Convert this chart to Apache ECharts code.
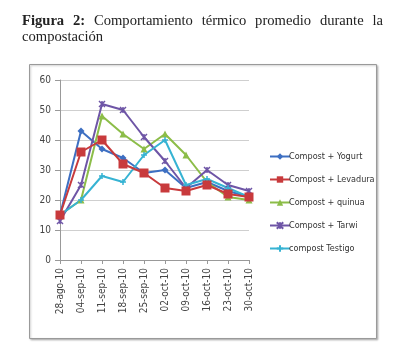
<!DOCTYPE html>
<html><head><meta charset="utf-8">
<script src="https://cdn.jsdelivr.net/npm/echarts@6/dist/echarts.min.js"></script>
<style>
html,body{margin:0;padding:0;background:#fff;}
#title{position:absolute;left:22px;top:12px;width:361px;font-family:"Liberation Serif","DejaVu Serif",serif;font-size:14.6px;line-height:16px;color:#222;}
#title .l1{text-align:justify;text-align-last:justify;}
#chart{position:absolute;left:0;top:0;width:393px;height:359px;}
</style></head>
<body>
<div id="chart"></div>
<div id="title"><div class="l1"><b>Figura 2:</b> Comportamiento térmico promedio durante la</div><div>compostación</div></div>
<script>
const categories = ['28-ago-10','04-sep-10','11-sep-10','18-sep-10','25-sep-10','02-oct-10','09-oct-10','16-oct-10','23-oct-10','30-oct-10'];
const yogurt   = [15,43,37,34,29,30,24,26,23,21];
const levadura = [15,36,40,32,29,24,23,25,22,21];
const quinua   = [15,20,48,42,37,42,35,26,21,20];
const tarwi    = [13,25,52,50,41,33,24,30,25,23];
const testigo  = [15,20,28,26,35,40,25,27,24,21];
const names = ['Compost + Yogurt','Compost + Levadura','Compost + quinua','Compost + Tarwi','compost Testigo'];
const yTicks = [0,10,20,30,40,50,60];

const colors = ['#3d6fc2','#c83a3c','#8cbd48','#6e55a6','#36b3d3'];
const symbols = ['diamond','rect','triangle','path://M0,0L10,10M10,0L0,10M5,0L5,10','path://M0,5L10,5M5,0L5,10'];
const sizes = [7,9,7,6,6];
const datas = [yogurt,levadura,quinua,tarwi,testigo];
const narrow = '"DejaVu Sans Condensed","Liberation Sans Narrow",sans-serif';

const chart = echarts.init(document.getElementById('chart'));
chart.setOption({
  animation:false,
  color: colors,
  graphic:[{type:'rect',shape:{x:29.5,y:64.5,width:347,height:274},style:{fill:'#fff',stroke:'#9a9a9a',lineWidth:1,shadowColor:'rgba(0,0,0,0.25)',shadowBlur:2,shadowOffsetX:1,shadowOffsetY:1},z:-10}],
  grid:{left:60,right:144,top:80,bottom:99,containLabel:false},
  legend:{
    orient:'vertical', left:264, top:147, itemGap:14, itemWidth:20, itemHeight:8,
    textStyle:{fontFamily:narrow,fontSize:9,color:'#333',padding:[0,0,0,-6]},
    data:names
  },
  xAxis:{
    type:'category', data:categories, boundaryGap:false,
    axisLine:{lineStyle:{color:'#999'}},
    axisTick:{show:true,alignWithLabel:true,lineStyle:{color:'#999'},length:4},
    axisLabel:{rotate:90,interval:0,fontSize:10,color:'#444',fontFamily:narrow,margin:8},
    splitLine:{show:false}
  },
  yAxis:{
    type:'value', min:0, max:60, interval:10,
    axisLine:{show:true,lineStyle:{color:'#999'}},
    axisTick:{show:true,length:5,lineStyle:{color:'#999'}},
    axisLabel:{fontSize:10,color:'#444',margin:9,fontFamily:narrow,
      formatter:v=>yTicks.includes(v)?String(v):''},
    splitLine:{show:true,lineStyle:{color:'#cfcfcf',width:1}}
  },
  series: names.map((n,i)=>({
    name:n, type:'line', data:datas[i], symbol:symbols[i], symbolSize:sizes[i],
    showAllSymbol:true,
    lineStyle:{width:2,color:colors[i]},
    itemStyle:{color:colors[i],borderColor:colors[i],borderWidth:(i>=3?1.5:0)},
    z:(i===1?5:3)
  }))
});
</script>
</body></html>
